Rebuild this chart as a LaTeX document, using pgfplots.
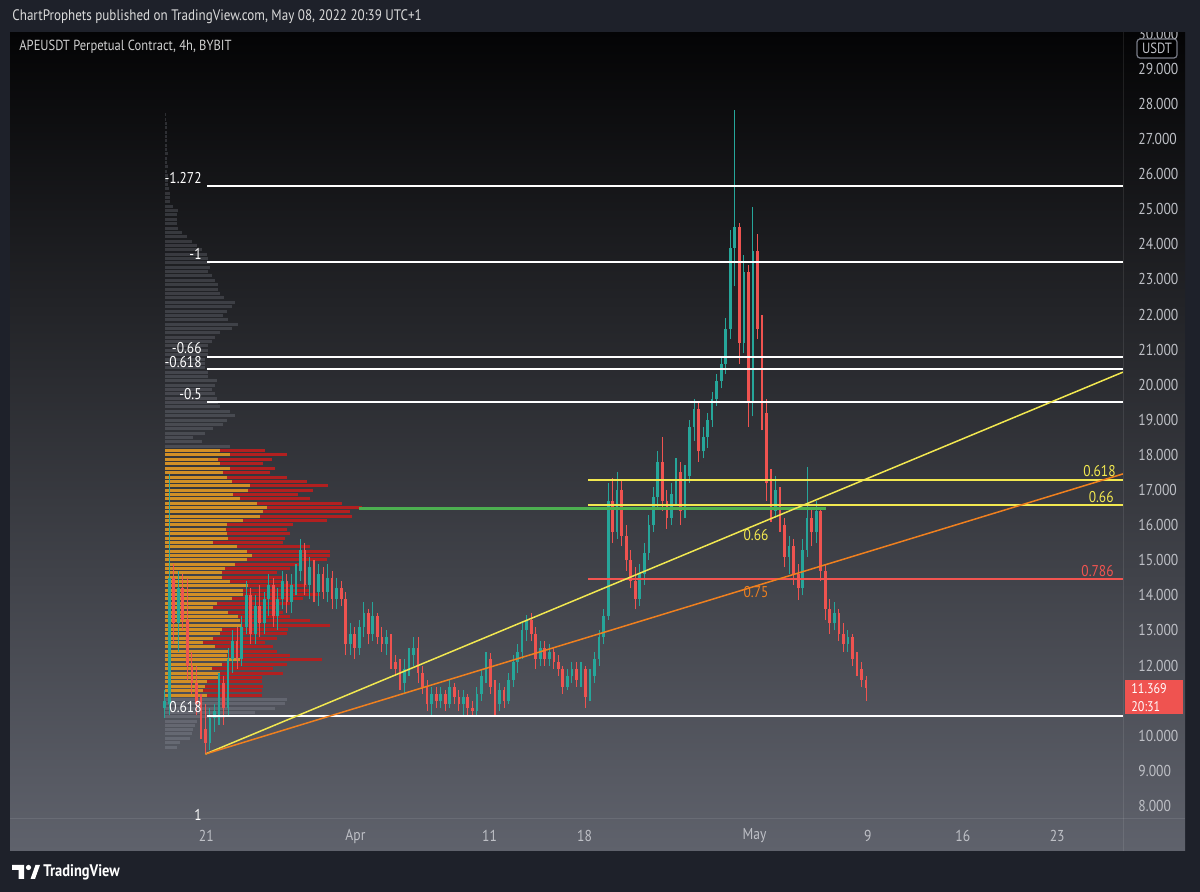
\documentclass[border=0pt]{standalone}
\usepackage{pgfplots}
\pgfplotsset{compat=1.18}
\usepackage{pgfplotstable}
\usepackage{fontspec}
\setmainfont{PT Sans}[FakeStretch=0.86]

\definecolor{outerbg}{RGB}{30,33,42}
\definecolor{paneltop}{RGB}{4,4,5}
\definecolor{panelbot}{RGB}{95,98,108}
\definecolor{up}{RGB}{38,166,154}
\definecolor{dn}{RGB}{239,83,80}
\definecolor{vpup}{RGB}{210,143,38}
\definecolor{vpdn}{RGB}{178,32,32}
\definecolor{vpgray}{RGB}{200,205,220}
\definecolor{fibyel}{RGB}{242,232,80}
\definecolor{trendor}{RGB}{240,128,30}
\definecolor{poc}{RGB}{76,175,80}
\definecolor{lvl}{RGB}{242,84,80}
\definecolor{scaletxt}{RGB}{190,192,198}
\definecolor{headtxt}{RGB}{218,218,218}
\definecolor{titletxt}{RGB}{208,208,208}
\definecolor{boxline}{RGB}{120,123,134}

% candles (every 8h), day 0 = Mar 21
\pgfplotstableread{
d o h l c
-3.00 10.8 11.3 10.5 11.0
-2.67 10.9 17.45 10.6 14.5
-2.33 14.5 14.9 12.6 13.2
-2.00 13.2 14.7 12.4 14.2
-1.67 14.2 14.6 13.0 13.3
-1.33 13.3 14.5 11.6 12.0
-1.00 12.0 12.4 11.2 11.5
-0.67 11.5 12.0 10.6 10.9
-0.33 10.9 11.2 9.9 10.2
0.00 10.2 10.9 9.5 9.8
0.33 9.8 10.8 9.6 10.5
0.67 10.5 10.9 10.1 10.7
1.00 10.7 11.8 10.3 11.5
1.33 11.5 11.7 10.3 10.8
1.67 10.8 12.5 10.6 12.2
2.00 12.2 13.0 11.8 12.7
2.33 12.7 13.1 11.9 12.2
2.67 12.2 13.4 12.0 13.1
3.00 13.1 14.4 12.9 14.0
3.33 14.0 14.2 12.6 12.9
3.67 12.9 14.0 12.6 13.7
4.00 13.7 14.3 12.8 13.2
4.33 13.2 14.1 12.9 13.9
4.67 13.9 14.6 13.4 14.3
5.00 14.3 14.5 13.1 13.4
5.33 13.4 14.2 13.0 13.9
5.67 13.9 14.7 13.6 14.4
6.00 14.4 14.6 13.5 13.8
6.33 13.8 14.6 13.5 14.3
6.67 14.3 14.9 14.0 14.7
7.00 14.7 15.6 14.4 15.3
7.33 15.3 15.5 14.0 14.3
7.67 14.3 15.1 13.9 14.8
8.00 14.8 15.0 13.8 14.1
8.33 14.1 14.9 13.7 14.6
8.67 14.6 14.8 13.9 14.1
9.00 14.1 14.9 13.8 14.5
9.33 14.5 14.7 13.6 13.9
9.67 13.9 14.5 13.6 14.2
10.00 14.2 14.4 13.7 13.9
10.33 13.9 14.1 12.3 12.6
10.67 12.6 13.2 12.3 12.9
11.00 12.9 13.1 12.2 12.5
11.33 12.5 13.3 12.3 13.1
11.67 13.1 13.8 12.8 13.5
12.00 13.5 13.6 12.6 12.9
12.33 12.9 13.8 12.7 13.4
12.67 13.4 13.5 12.6 12.8
13.00 12.8 13.1 12.4 12.6
13.33 12.6 13.0 12.3 12.8
13.67 12.8 12.9 11.9 12.1
14.00 12.1 12.3 11.7 11.9
14.33 11.9 12.2 11.3 11.5
14.67 11.5 12.2 11.2 11.9
15.00 11.9 12.5 11.7 12.3
15.33 12.3 12.8 12.0 12.5
15.67 12.5 12.8 11.5 11.8
16.00 11.8 12.0 11.2 11.4
16.33 11.4 11.6 10.7 10.9
16.67 10.9 11.4 10.55 11.2
17.00 11.2 11.4 10.8 11.0
17.33 11.0 11.4 10.8 11.2
17.67 11.2 11.3 10.7 10.9
18.00 10.9 11.6 10.8 11.4
18.33 11.4 11.5 10.9 11.1
18.67 11.1 11.3 10.7 10.9
19.00 10.9 11.3 10.6 11.1
19.33 11.1 11.2 10.6 10.8
19.67 10.8 11.0 10.55 10.7
20.00 10.7 11.4 10.6 11.2
20.33 11.2 11.9 11.0 11.7
20.67 11.7 12.4 11.5 12.2
21.00 12.2 12.35 11.2 11.4
21.33 11.4 11.6 10.6 10.9
21.67 10.9 11.5 10.7 11.3
22.00 11.3 11.4 10.8 11.0
22.33 11.0 11.8 10.9 11.6
22.67 11.6 12.3 11.4 12.1
23.00 12.1 12.6 11.8 12.4
23.33 12.4 13.2 12.2 13.0
23.67 13.0 13.45 12.7 13.3
24.00 13.3 13.5 12.7 12.9
24.33 12.9 13.1 11.9 12.2
24.67 12.2 12.7 12.0 12.5
25.00 12.5 12.7 12.0 12.2
25.33 12.2 12.6 12.0 12.4
25.67 12.4 12.5 11.9 12.1
26.00 12.1 12.3 11.7 11.9
26.33 11.9 12.0 11.2 11.4
26.67 11.4 11.9 11.3 11.7
27.00 11.7 12.1 11.5 11.9
27.33 11.9 12.1 11.4 11.6
27.67 11.6 12.1 11.4 11.9
28.00 11.9 12.0 10.8 11.1
28.33 11.1 11.9 11.0 11.7
28.67 11.7 12.4 11.5 12.2
29.00 12.2 13.0 12.0 12.8
29.33 12.8 13.6 12.6 13.4
29.67 13.4 17.2 13.3 16.7
30.00 16.7 17.35 15.5 15.8
30.33 15.8 17.5 15.6 17.0
30.67 17.0 17.3 15.4 15.7
31.00 15.7 16.0 14.7 15.0
31.33 15.0 15.3 14.2 14.4
31.67 14.4 14.8 13.6 13.9
32.00 13.9 14.9 13.7 14.6
32.33 14.6 15.5 14.3 15.2
32.67 15.2 16.3 15.0 16.0
33.00 16.0 17.1 15.8 16.8
33.33 16.8 18.1 16.5 17.8
33.67 17.8 18.5 16.4 16.7
34.00 16.7 17.0 15.9 16.2
34.33 16.2 17.2 16.0 16.9
34.67 16.9 17.9 16.6 17.5
35.00 17.5 17.8 16.0 16.4
35.33 16.4 17.7 16.2 17.4
35.67 17.4 19.0 17.2 18.8
36.00 18.8 19.6 18.4 19.3
36.33 19.3 19.5 17.8 18.1
36.67 18.1 18.8 17.9 18.5
37.00 18.5 19.2 18.2 19.0
37.33 19.0 19.8 18.8 19.6
37.67 19.6 20.3 19.4 20.1
38.00 20.1 20.8 19.9 20.6
38.33 20.6 21.9 20.3 21.6
38.67 21.6 24.4 21.3 23.9
39.00 23.9 27.83 22.8 24.5
39.33 24.5 24.6 20.6 21.2
39.67 21.2 23.7 20.9 23.2
40.00 23.2 23.4 18.8 19.5
40.33 19.5 25.07 19.1 23.8
40.67 23.8 24.3 21.3 21.6
41.00 21.6 22.0 18.7 19.2
41.33 19.2 19.6 16.7 17.2
41.67 17.2 17.6 16.1 16.4
42.00 16.4 17.4 16.2 17.0
42.33 17.0 17.1 15.8 16.0
42.67 16.0 16.2 14.8 15.1
43.00 15.1 15.7 14.6 15.4
43.33 15.4 15.6 14.3 14.6
43.67 14.6 14.9 13.87 14.2
44.00 14.2 15.6 14.0 15.3
44.33 15.3 17.65 15.1 16.2
44.67 16.2 16.5 15.4 15.8
45.00 15.8 16.7 15.5 16.4
45.33 16.4 16.5 14.4 14.7
45.67 14.7 14.9 13.3 13.6
46.00 13.6 13.9 12.9 13.2
46.33 13.2 13.8 13.0 13.5
46.67 13.5 13.6 12.7 12.9
47.00 12.9 13.2 12.4 12.6
47.33 12.6 13.0 12.4 12.8
47.67 12.8 12.9 12.0 12.2
48.00 12.2 12.4 11.7 11.9
48.33 11.9 12.1 11.4 11.6
48.67 11.6 11.7 11.0 11.37
}\candles

% volume profile, value area: price, up volume, down volume (px)
\pgfplotstableread{
p a b
18.12 55 45
18.00 65 57
17.87 53 54
17.75 55 43
17.62 65 45
17.50 58 47
17.37 62 60
17.25 67 75
17.13 85 78
17.00 83 65
16.88 68 65
16.75 75 70
16.63 92 85
16.50 102 95
16.38 98 87
16.26 95 92
16.13 78 84
16.01 62 66
15.88 61 61
15.76 62 63
15.63 63 57
15.51 48 70
15.39 72 73
15.26 82 83
15.14 87 78
15.01 82 80
14.89 70 65
14.77 60 65
14.64 57 55
14.52 57 61
14.39 65 53
14.27 83 59
14.14 78 67
14.02 78 77
13.90 67 71
13.77 52 73
13.65 48 65
13.52 63 55
13.40 73 52
13.27 75 70
13.15 77 88
13.03 57 66
12.90 55 67
12.78 48 64
12.65 38 62
12.53 50 58
12.41 63 49
12.28 62 63
12.16 75 82
12.03 57 65
11.91 47 61
11.78 55 63
11.66 53 44
11.54 42 55
11.41 40 58
11.29 38 59
11.16 42 55
}\vparea

% volume profile outside value area
\pgfplotstableread{
p g
27.70 1
27.57 1
27.45 2
27.32 2
27.20 2
27.07 2
26.95 2
26.83 2
26.70 2
26.58 3
26.45 2
26.33 2
26.21 3
26.08 2
25.96 3
25.83 3
25.71 3
25.58 4
25.46 5
25.33 5
25.21 5
25.09 8
24.96 13
24.84 12
24.71 12
24.59 12
24.46 13
24.34 17
24.22 22
24.09 27
23.97 32
23.84 37
23.72 42
23.59 43
23.47 45
23.35 45
23.22 43
23.10 47
22.97 50
22.85 53
22.72 53
22.60 55
22.48 59
22.35 70
22.23 67
22.10 62
21.98 58
21.85 63
21.73 73
21.61 67
21.48 55
21.36 50
21.23 47
21.11 43
20.98 43
20.86 43
20.73 40
20.61 40
20.49 40
20.36 43
20.24 43
20.11 52
19.99 50
19.86 47
19.74 50
19.62 52
19.49 53
19.37 55
19.24 65
19.12 70
18.99 62
18.87 58
18.74 48
18.62 40
18.50 28
18.37 37
18.25 65
11.04 122
10.92 120
10.79 110
10.67 90
10.54 60
10.42 32
10.29 30
10.17 28
10.05 27
9.92 25
9.80 15
9.67 12
}\vpgray

\tikzset{px/.style={x=0.5pt, y=-0.5pt, shift={(0pt,446pt)}}}

\begin{document}
\begin{tikzpicture}
% page and chart panel (pixel coordinates, y downwards)
\begin{scope}[px]
\fill[outerbg] (0,0) rectangle (1200,892);
\shade[top color=paneltop, bottom color=panelbot] (10,32) rectangle (1185,851);
\draw[white, opacity=0.09, line width=0.5pt] (1123,32) -- (1123,851);
\draw[white, opacity=0.09, line width=0.5pt] (10,819) -- (1185,819);
\end{scope}

% volume profile (x in px from its left edge)
\begin{axis}[at={(5pt,36pt)}, anchor=south west, scale only axis,
  width=556.5pt, height=394pt, xmin=-155, xmax=958, ymin=7.6, ymax=30.05, hide axis]
\addplot[vpgray, opacity=0.17, line width=1.5pt, quiver={u=\thisrow{g}, v=0}] table[x expr=0, y=p] {\vpgray};
\addplot[vpup, line width=1.5pt, quiver={u=\thisrow{a}, v=0}] table[x expr=0, y=p] {\vparea};
\addplot[vpdn, line width=1.5pt, quiver={u=\thisrow{b}, v=0}] table[x=a, y=p] {\vparea};
\end{axis}

\begin{axis}[at={(5pt,36pt)}, anchor=south west, scale only axis,
  width=556.5pt, height=394pt,
  xmin=-14.4, xmax=67.6, ymin=7.6, ymax=30.05,
  axis line style={draw=none}, tick style={draw=none},
  xtick={0.07,11.05,20.93,27.93,40.46,48.8,55.8,62.75},
  xticklabels={21,Apr,11,18,May,9,16,23},
  ytick={8,9,10,12,13,...,30}, yticklabel pos=right,
  ticklabel style={font=\fontsize{7.9}{9}\selectfont, text=scaletxt},
  xticklabel style={anchor=center, yshift=-8pt},
  yticklabel style={anchor=west, xshift=4.2pt,
    /pgf/number format/fixed, /pgf/number format/fixed zerofill,
    /pgf/number format/precision=3, /pgf/number format/assume math mode=true},
]
% candles: wicks then bodies
\addplot[up, line width=0.55pt, quiver={u=0, v=\thisrow{h}-\thisrow{l}},
  restrict expr to domain={\thisrow{c}-\thisrow{o}}{0:100}] table[x=d, y=l] {\candles};
\addplot[up, line width=1.35pt, quiver={u=0, v=\thisrow{c}-\thisrow{o}},
  restrict expr to domain={\thisrow{c}-\thisrow{o}}{0:100}] table[x=d, y=o] {\candles};
\addplot[dn, line width=0.55pt, quiver={u=0, v=\thisrow{h}-\thisrow{l}},
  restrict expr to domain={\thisrow{o}-\thisrow{c}}{0.0001:100}] table[x=d, y=l] {\candles};
\addplot[dn, line width=1.35pt, quiver={u=0, v=\thisrow{o}-\thisrow{c}},
  restrict expr to domain={\thisrow{o}-\thisrow{c}}{0.0001:100}] table[x=d, y=c] {\candles};

% fib extension levels
\addplot[white, line width=0.75pt] coordinates {(0.15,25.66) (67.6,25.66)};
\addplot[white, line width=0.75pt] coordinates {(0.15,23.50) (67.6,23.50)};
\addplot[white, line width=0.75pt] coordinates {(0.15,20.79) (67.6,20.79)};
\addplot[white, line width=0.75pt] coordinates {(0.15,20.45) (67.6,20.45)};
\addplot[white, line width=0.75pt] coordinates {(0.15,19.51) (67.6,19.51)};
\addplot[white, line width=0.75pt] coordinates {(0.15,10.56) (67.6,10.56)};
% retracement levels
\addplot[fibyel, line width=0.75pt] coordinates {(28.2,17.29) (67.6,17.29)};
\addplot[fibyel, line width=0.75pt] coordinates {(28.2,16.58) (67.6,16.58)};
\addplot[lvl, line width=0.75pt] coordinates {(28.2,14.47) (67.6,14.47)};
\addplot[poc, line width=1.5pt] coordinates {(11.3,16.46) (45.7,16.46)};
% trend lines
\addplot[fibyel, line width=0.75pt] coordinates {(0,9.48) (67.6,20.36)};
\addplot[trendor, line width=0.75pt] coordinates {(0,9.48) (67.6,17.46)};
\end{axis}

\begin{scope}[px, every node/.style={font=\fontsize{7.8}{9}\selectfont, inner sep=0pt}]
% cover above the panel
\fill[outerbg] (0,0) rectangle (1200,32);
\node[anchor=west, text=headtxt, font=\fontsize{7.6}{9}\selectfont] at (12,17)
  {ChartProphets published on TradingView.com, May 08, 2022 20:39 UTC+1};
\node[anchor=west, text=titletxt, font=\fontsize{7.3}{9}\selectfont] at (19,47)
  {APEUSDT Perpetual Contract, 4h, BYBIT};
% fib labels
\node[anchor=east, text=white] at (202,178) {-1.272};
\node[anchor=east, text=white] at (202,254) {-1};
\node[anchor=east, text=white] at (202,348) {-0.66};
\node[anchor=east, text=white] at (202,362.5) {-0.618};
\node[anchor=east, text=white] at (202,394) {-0.5};
\node[anchor=east, text=white] at (202,707) {0.618};
\node[text=white] at (198,815) {1};
\node[anchor=east, text=fibyel] at (1116,471) {0.618};
\node[anchor=east, text=fibyel] at (1114,497) {0.66};
\node[anchor=east, text=lvl] at (1114,571) {0.786};
\node[text=fibyel] at (756,535) {0.66};
\node[text=trendor] at (756,592) {0.75};
% price scale extras
\draw[draw=boxline, fill=black, rounded corners=1.5pt, line width=0.6pt]
  (1137,39) rectangle (1177,58);
\node[text=scaletxt, font=\fontsize{7.4}{9}\selectfont] at (1157,48.5) {USDT};
\fill[dn] (1125,680) rectangle (1183,714);
\node[anchor=west, text=white, font=\fontsize{7}{8}\selectfont] at (1131,688.5) {11.369};
\node[anchor=west, text=white, font=\fontsize{7}{8}\selectfont] at (1131,706.5) {20:31};
% footer logo
\fill[white] (12,865) -- (24,865) -- (24,879) -- (18.5,879) -- (18.5,870) -- (12,870) -- cycle;
\fill[white] (28.5,867.5) circle (2.6);
\fill[white] (30.5,879) -- (35.5,865) -- (40,865) -- (35,879) -- cycle;
\node[anchor=west, text=white, font=\bfseries\fontsize{8.4}{10}\selectfont] at (43,872) {TradingView};
\end{scope}

\pgfresetboundingbox
\path[use as bounding box] (0pt,0pt) rectangle (600pt,446pt);
\end{tikzpicture}
\end{document}
